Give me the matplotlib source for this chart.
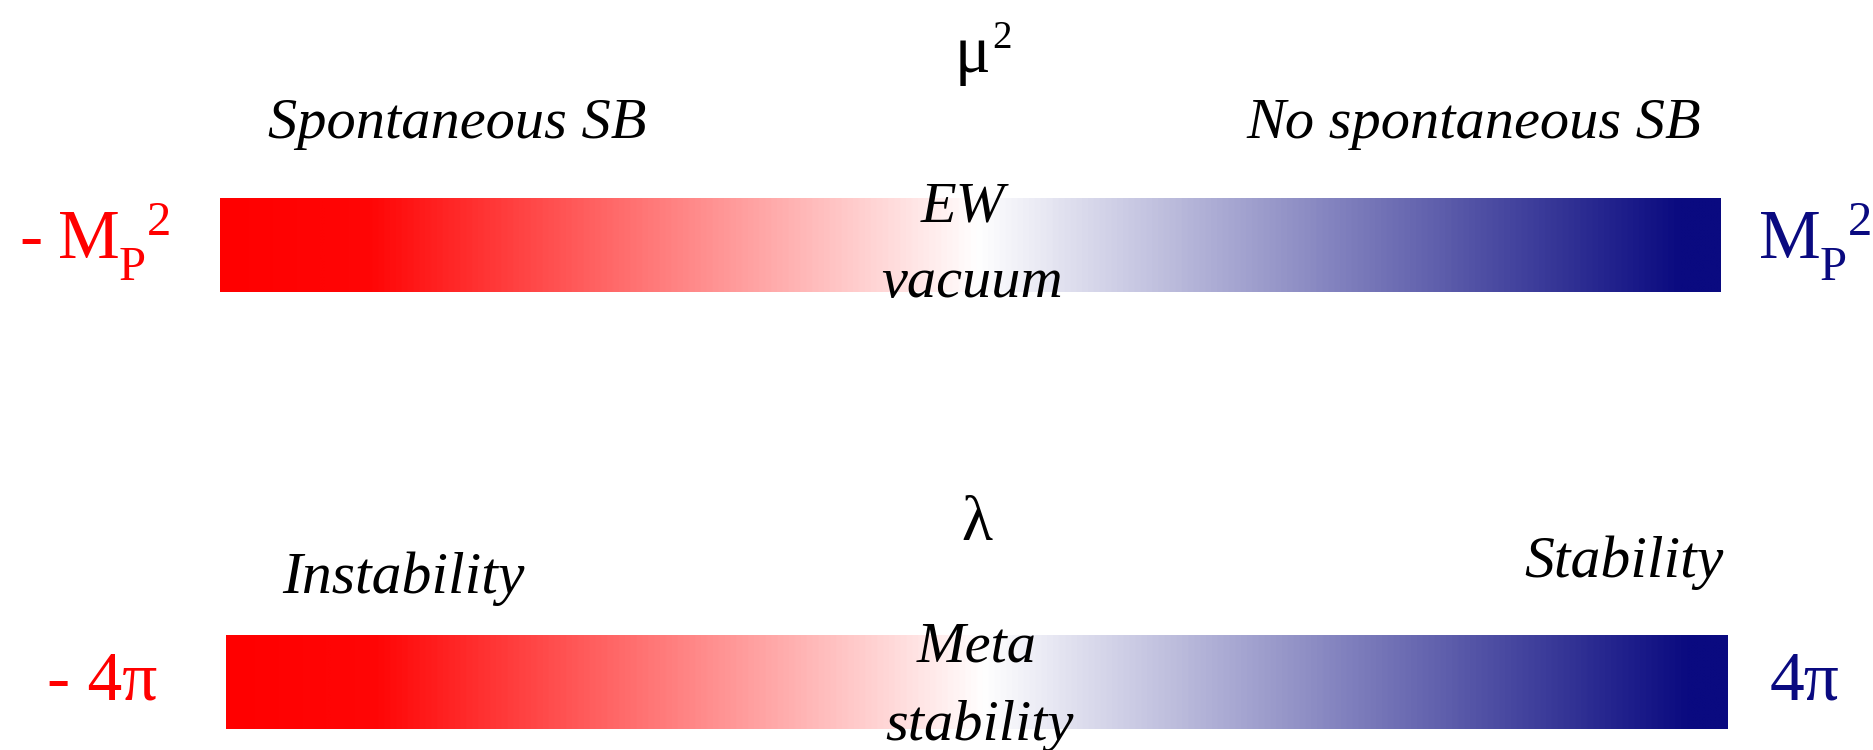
import numpy as np
import matplotlib
matplotlib.use('Agg')
import matplotlib.pyplot as plt
from matplotlib.colors import LinearSegmentedColormap

plt.rcParams['font.family'] = ['Liberation Serif', 'DejaVu Serif']

W, H = 1873, 750

# colour scale along each bar: position (0..1) and colour
stop_pos = [0.0, 0.10, 0.505, 0.975, 1.0]
stop_col = ['#ff0000', '#ff0606', '#ffffff', '#0a0a80', '#0a0a80']

# the two parameters, their ranges and region names
params = ['μ', 'λ']
low_labels = ['- ', '- 4π']
high_labels = ['', '4π']
left_names = ['Spontaneous SB', 'Instability']
right_names = ['No spontaneous SB', 'Stability']
mid_names = [('EW', 'vacuum'), ('Meta', 'stability')]

red = '#ff0000'
navy = '#0a0a80'

cmap = LinearSegmentedColormap.from_list('rwb', list(zip(stop_pos, stop_col)))

fig = plt.figure(figsize=(W / 100, H / 100), dpi=100)


def put(x, y, s, **kw):
    fig.text(x / W, 1 - y / H, s, va='baseline', **kw)


def planck(x, y, color):
    # M_P^2 written as M, lowered P, raised 2
    put(x, y, 'M', ha='left', color=color, size=50)
    put(x + 61, y + 22, 'P', ha='left', color=color, size=35)
    put(x + 89, y - 23, '2', ha='left', color=color, size=35)


# bars, in pixel boxes (left, top, right, bottom)
boxes = [(220, 198, 1721, 292), (226, 635, 1728, 729)]
for (l, t, r, b) in boxes:
    ax = fig.add_axes([l / W, 1 - b / H, (r - l) / W, (b - t) / H])
    ax.imshow(np.linspace(0, 1, 1024)[None, :], aspect='auto', cmap=cmap,
              extent=[-1, 1, 0, 1], interpolation='bilinear')
    ax.axis('off')

# top bar texts
put(955, 72, params[0], ha='left', size=48)
put(992, 48, '2', ha='left', size=28)
put(268, 138, left_names[0], ha='left', style='italic', size=42)
put(1246, 138, right_names[0], ha='left', style='italic', size=42)
put(20, 258, low_labels[0], ha='left', color=red, size=50)
planck(58, 258, red)
planck(1759, 258, navy)
put(963, 222, mid_names[0][0], ha='center', style='italic', size=42)
put(972, 297, mid_names[0][1], ha='center', style='italic', size=42)

# bottom bar texts
put(977, 540, params[1], ha='center', size=46)
put(282, 593, left_names[1], ha='left', style='italic', size=43)
put(1724, 577, right_names[1], ha='right', style='italic', size=43)
put(47, 700, low_labels[1], ha='left', color=red, size=50)
put(1770, 700, high_labels[1], ha='left', color=navy, size=50)
put(977, 662, mid_names[1][0], ha='center', style='italic', size=42)
put(979, 740, mid_names[1][1], ha='center', style='italic', size=42)

fig.savefig('out.png', dpi=100, facecolor='white')
